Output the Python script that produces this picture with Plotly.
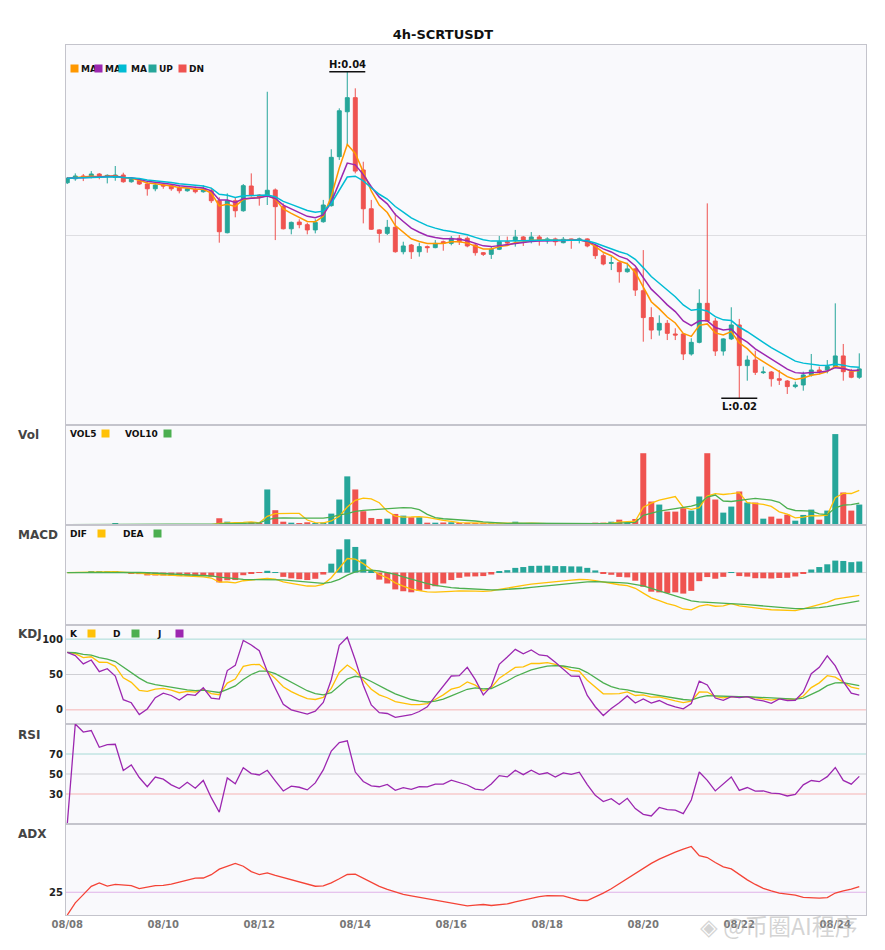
import numpy as np
import pandas as pd
import plotly.graph_objects as go
from plotly.subplots import make_subplots

# ---------------- data ----------------
title = "4h-SCRTUSDT"
start_time = "2024-08-08 00:00"

open_ = [0.03319, 0.03343, 0.03360, 0.03356, 0.03372, 0.03356, 0.03352, 0.03366, 0.03325, 0.03331,
         0.03311, 0.03282, 0.03305, 0.03301, 0.03287, 0.03270, 0.03279, 0.03264, 0.03270, 0.03209,
         0.03014, 0.03209, 0.03148, 0.03299, 0.03244, 0.03237, 0.03275, 0.03173, 0.03038, 0.03079,
         0.03063, 0.03031, 0.03081, 0.03179, 0.03478, 0.03752, 0.03838, 0.03397, 0.03160, 0.03031,
         0.03010, 0.03047, 0.02898, 0.02939, 0.02898, 0.02929, 0.02923, 0.02959, 0.02949, 0.02980,
         0.02980, 0.02939, 0.02892, 0.02882, 0.02913, 0.02959, 0.02965, 0.02988, 0.02969, 0.02988,
         0.02965, 0.02976, 0.02953, 0.02976, 0.02969, 0.02976, 0.02933, 0.02874, 0.02827, 0.02831,
         0.02776, 0.02793, 0.02660, 0.02496, 0.02420, 0.02461, 0.02396, 0.02396, 0.02274, 0.02345,
         0.02583, 0.02475, 0.02292, 0.02366, 0.02451, 0.02203, 0.02237, 0.02160, 0.02164, 0.02123,
         0.02109, 0.02075, 0.02085, 0.02146, 0.02176, 0.02176, 0.02197, 0.02262, 0.02166, 0.02132]
high = [0.03354, 0.03376, 0.03372, 0.03390, 0.03378, 0.03370, 0.03421, 0.03380, 0.03342, 0.03346,
        0.03323, 0.03310, 0.03315, 0.03308, 0.03303, 0.03287, 0.03295, 0.03303, 0.03287, 0.03230,
        0.03254, 0.03230, 0.03311, 0.03376, 0.03250, 0.03874, 0.03284, 0.03193, 0.03082, 0.03096,
        0.03075, 0.03096, 0.03214, 0.03523, 0.03773, 0.03996, 0.03895, 0.03447, 0.03214, 0.03035,
        0.03092, 0.03132, 0.02959, 0.02945, 0.02953, 0.02936, 0.02969, 0.02966, 0.02994, 0.03000,
        0.02991, 0.02951, 0.02896, 0.02929, 0.02994, 0.02990, 0.03031, 0.02994, 0.03018, 0.03000,
        0.02986, 0.02984, 0.02988, 0.02978, 0.02984, 0.02980, 0.02939, 0.02888, 0.02868, 0.02835,
        0.02831, 0.02799, 0.02908, 0.02559, 0.02510, 0.02481, 0.02431, 0.02402, 0.02370, 0.02669,
        0.03193, 0.02494, 0.02370, 0.02559, 0.02488, 0.02264, 0.02294, 0.02197, 0.02170, 0.02176,
        0.02115, 0.02105, 0.02166, 0.02274, 0.02197, 0.02237, 0.02583, 0.02335, 0.02183, 0.02278]
low = [0.03311, 0.03331, 0.03329, 0.03346, 0.03340, 0.03315, 0.03331, 0.03319, 0.03319, 0.03305,
       0.03240, 0.03267, 0.03282, 0.03270, 0.03254, 0.03264, 0.03254, 0.03258, 0.03195, 0.02953,
       0.03010, 0.03108, 0.03142, 0.03234, 0.03179, 0.03183, 0.02969, 0.03034, 0.03004, 0.03041,
       0.03004, 0.03010, 0.03075, 0.03173, 0.03458, 0.03549, 0.03376, 0.03071, 0.03031, 0.02953,
       0.03000, 0.02892, 0.02882, 0.02854, 0.02868, 0.02892, 0.02919, 0.02904, 0.02937, 0.02939,
       0.02925, 0.02874, 0.02872, 0.02854, 0.02908, 0.02939, 0.02929, 0.02933, 0.02949, 0.02935,
       0.02947, 0.02935, 0.02949, 0.02916, 0.02949, 0.02925, 0.02854, 0.02815, 0.02786, 0.02709,
       0.02770, 0.02628, 0.02349, 0.02364, 0.02386, 0.02359, 0.02359, 0.02237, 0.02264, 0.02339,
       0.02471, 0.02262, 0.02264, 0.02359, 0.02004, 0.02111, 0.02146, 0.02152, 0.02075, 0.02085,
       0.02030, 0.02065, 0.02050, 0.02136, 0.02150, 0.02156, 0.02187, 0.02111, 0.02126, 0.02122]
close = [0.03346, 0.03360, 0.03352, 0.03372, 0.03352, 0.03364, 0.03366, 0.03325, 0.03340, 0.03311,
         0.03282, 0.03305, 0.03299, 0.03282, 0.03270, 0.03282, 0.03264, 0.03279, 0.03209, 0.03020,
         0.03209, 0.03148, 0.03301, 0.03244, 0.03230, 0.03273, 0.03173, 0.03038, 0.03077, 0.03063,
         0.03031, 0.03077, 0.03183, 0.03474, 0.03758, 0.03838, 0.03390, 0.03160, 0.03035, 0.03010,
         0.03047, 0.02898, 0.02933, 0.02898, 0.02929, 0.02923, 0.02949, 0.02949, 0.02980, 0.02959,
         0.02933, 0.02892, 0.02882, 0.02913, 0.02959, 0.02951, 0.02988, 0.02965, 0.02988, 0.02969,
         0.02976, 0.02959, 0.02974, 0.02969, 0.02976, 0.02933, 0.02874, 0.02823, 0.02831, 0.02776,
         0.02793, 0.02664, 0.02496, 0.02420, 0.02461, 0.02400, 0.02390, 0.02274, 0.02345, 0.02583,
         0.02475, 0.02292, 0.02366, 0.02451, 0.02203, 0.02237, 0.02162, 0.02164, 0.02123, 0.02114,
         0.02075, 0.02085, 0.02146, 0.02176, 0.02166, 0.02197, 0.02262, 0.02166, 0.02132, 0.02183]
volume = [3000, 3000, 3000, 3000, 3000, 3000, 13000, 3000, 3000, 3000,
          5000, 3000, 3000, 3000, 5000, 3000, 3000, 3000, 7000, 67000,
          33000, 10000, 17000, 30000, 20000, 353000, 147000, 33000, 23000, 17000,
          27000, 17000, 25000, 113000, 253000, 483000, 353000, 137000, 70000, 60000,
          63000, 110000, 93000, 77000, 77000, 23000, 23000, 25000, 27000, 17000,
          17000, 17000, 10000, 10000, 10000, 10000, 33000, 17000, 17000, 10000,
          7000, 7000, 7000, 7000, 7000, 10000, 23000, 23000, 33000, 53000,
          27000, 60000, 713000, 233000, 203000, 133000, 133000, 167000, 143000, 283000,
          713000, 253000, 123000, 183000, 333000, 223000, 223000, 63000, 83000, 63000,
          103000, 43000, 100000, 153000, 53000, 143000, 903000, 323000, 143000, 203000]

ma_periods = [5, 8, 13]          # exponential moving averages on the price panel
vol_periods = [5, 10]
macd_params = (12, 26, 9)
kdj_params = (9, 3, 3)
rsi_period = 14
adx_period = 14

# ---------------- styling ----------------
UP = "#26a69a"
DN = "#ef5350"
MA_COLORS = ["#ff9800", "#9c27b0", "#00bcd4"]
YEL = "#ffc107"
GRN = "#4caf50"
PUR = "#9c27b0"
ADXC = "#f44336"
FONT = "DejaVu Sans"

# ---------------- indicators ----------------
o = np.array(open_); h = np.array(high); l = np.array(low); c = np.array(close)
v = np.array(volume, dtype=float)
n = len(c)
xi = np.arange(n)
times = pd.date_range(start_time, periods=n, freq="4h")


def ema(a, p):
    a = np.asarray(a, dtype=float)
    k = 2.0 / (p + 1)
    out = np.empty_like(a)
    out[0] = a[0]
    for i in range(1, len(a)):
        out[i] = k * a[i] + (1 - k) * out[i - 1]
    return out


mas = [ema(c, p) for p in ma_periods]
vols = [pd.Series(v).rolling(p, min_periods=1).mean().values for p in vol_periods]

f, s, sg = macd_params
dif = ema(c, f) - ema(c, s)
dea = ema(dif, sg)
hist = 2 * (dif - dea)

kn, k1, k2 = kdj_params
llv = pd.Series(l).rolling(kn, min_periods=1).min().values
hhv = pd.Series(h).rolling(kn, min_periods=1).max().values
rsv = (c - llv) / np.where(hhv - llv == 0, 1, hhv - llv) * 100
K = np.empty(n); D = np.empty(n)
K[0] = rsv[0]; D[0] = rsv[0]
for i in range(1, n):
    K[i] = (k1 - 1) / k1 * K[i - 1] + rsv[i] / k1
    D[i] = (k2 - 1) / k2 * D[i - 1] + K[i] / k2
J = 3 * K - 2 * D

a = 2.0 / (rsi_period + 1)
diff = np.diff(c)
gain = np.maximum(diff, 0); loss = np.maximum(-diff, 0)
ag = np.empty(n - 1); al = np.empty(n - 1)
ag[0] = gain[0]; al[0] = loss[0]
for i in range(1, n - 1):
    ag[i] = a * gain[i] + (1 - a) * ag[i - 1]
    al[i] = a * loss[i] + (1 - a) * al[i - 1]
rsi = np.concatenate([[0.0], 100 * ag / np.where(ag + al == 0, 1, ag + al)])

b = 2.0 / (adx_period + 1)
tr = np.empty(n); pdm = np.zeros(n); mdm = np.zeros(n)
tr[0] = h[0] - l[0]
for i in range(1, n):
    tr[i] = max(h[i] - l[i], abs(h[i] - c[i - 1]), abs(l[i] - c[i - 1]))
    up = h[i] - h[i - 1]; dn = l[i - 1] - l[i]
    pdm[i] = up if (up > dn and up > 0) else 0
    mdm[i] = dn if (dn > up and dn > 0) else 0
str_ = ema(tr, adx_period); spdm = ema(pdm, adx_period); smdm = ema(mdm, adx_period)
pdi = 100 * spdm / str_; mdi = 100 * smdm / str_
den = np.where(pdi + mdi == 0, 1, pdi + mdi)
dx = np.where(pdi + mdi == 0, 0, 100 * np.abs(pdi - mdi) / den)
adx = np.empty(n); adx[0] = 0
for i in range(1, n):
    adx[i] = b * dx[i] + (1 - b) * adx[i - 1]

bar_col = [UP if c[i] >= o[i] else DN for i in range(n)]
hist_col = [UP if x >= 0 else DN for x in hist]

tick_idx = [i for i, t in enumerate(times) if t.hour == 0 and t.day % 2 == 0]
tick_txt = [times[i].strftime("%m/%d") for i in tick_idx]

# ---------------- figure ----------------
fig = make_subplots(rows=6, cols=1, shared_xaxes=True, vertical_spacing=0,
                    row_heights=[380, 100, 100, 99, 100, 91])

fig.add_trace(go.Candlestick(x=xi, open=o, high=h, low=l, close=c,
                             increasing=dict(line=dict(color=UP, width=1), fillcolor=UP),
                             decreasing=dict(line=dict(color=DN, width=1), fillcolor=DN),
                             whiskerwidth=0, hoverinfo="skip", name="K"), row=1, col=1)
for m, col in zip(mas, MA_COLORS):
    fig.add_trace(go.Scatter(x=xi, y=m, mode="lines", line=dict(color=col, width=1.5)), row=1, col=1)

fig.add_trace(go.Bar(x=xi, y=v, marker=dict(color=bar_col, line=dict(width=0))), row=2, col=1)
for vv, col in zip(vols, [YEL, GRN]):
    fig.add_trace(go.Scatter(x=xi, y=vv, mode="lines", line=dict(color=col, width=1.3)), row=2, col=1)

fig.add_trace(go.Bar(x=xi, y=hist, marker=dict(color=hist_col, line=dict(width=0))), row=3, col=1)
fig.add_trace(go.Scatter(x=xi, y=dif, mode="lines", line=dict(color=YEL, width=1.3)), row=3, col=1)
fig.add_trace(go.Scatter(x=xi, y=dea, mode="lines", line=dict(color=GRN, width=1.3)), row=3, col=1)

for ser, col in zip([K, D, J], [YEL, GRN, PUR]):
    fig.add_trace(go.Scatter(x=xi, y=ser, mode="lines", line=dict(color=col, width=1.3)), row=4, col=1)

fig.add_trace(go.Scatter(x=xi, y=rsi, mode="lines", line=dict(color=PUR, width=1.3)), row=5, col=1)
fig.add_trace(go.Scatter(x=xi, y=adx, mode="lines", line=dict(color=ADXC, width=1.3)), row=6, col=1)

# axes
xr = [-0.16, n - 0.16]
for r in range(1, 7):
    fig.update_xaxes(row=r, col=1, range=xr, showline=True, mirror=True, linecolor="#c4c4cc",
                     linewidth=1, showgrid=False, zeroline=False, showticklabels=(r == 6),
                     ticks="", rangeslider_visible=False)
fig.update_xaxes(row=6, col=1, tickvals=tick_idx, ticktext=tick_txt,
                 tickfont=dict(family=FONT, size=10, color="#777", weight="bold"))

tickfont = dict(family=FONT, size=10, color="#222", weight="bold")
lo, hi = l.min(), h.max()
pad = 0.082 * (hi - lo)
fig.update_yaxes(row=1, col=1, range=[lo - pad, hi + pad], tickvals=[0.03], showticklabels=False,
                 gridcolor="#dedee2", showgrid=True)
fig.update_yaxes(row=2, col=1, range=[0, v.max() * 1.1], showticklabels=False, showgrid=False)
mlo = min(dif.min(), dea.min(), hist.min()); mhi = max(dif.max(), dea.max(), hist.max())
mp = 0.2 * (mhi - mlo)
fig.update_yaxes(row=3, col=1, range=[mlo - mp, mhi + mp], showticklabels=False, showgrid=False)
fig.update_yaxes(row=4, col=1, range=[-20, 120], tickvals=[0, 50, 100], showgrid=False, tickfont=tickfont)
fig.update_yaxes(row=5, col=1, range=[0, 100], tickvals=[30, 50, 70], showgrid=False, tickfont=tickfont)
fig.update_yaxes(row=6, col=1, range=[0, 100], tickvals=[25], showgrid=False, tickfont=tickfont)
fig.update_yaxes(showline=True, mirror=True, linecolor="#c4c4cc", linewidth=1, zeroline=False, ticks="")

# reference lines
TEAL_L = "#a6dad6"; GRAY_L = "#cfcfd4"; RED_L = "#f6b3b3"; PUR_L = "#dfb3e8"
refs = [(4, 100, TEAL_L), (4, 50, GRAY_L), (4, 0, RED_L),
        (5, 70, TEAL_L), (5, 50, GRAY_L), (5, 30, RED_L),
        (6, 25, PUR_L)]
for row, val, col in refs:
    fig.add_shape(type="line", xref=f"x{row} domain", yref=f"y{row}", x0=0, x1=1, y0=val, y1=val,
                  line=dict(color=col, width=1), layer="below")
fig.add_shape(type="line", xref="x3 domain", yref="y3", x0=0, x1=1, y0=0, y1=0,
              line=dict(color="#d6d6da", width=1), layer="below")

# high / low markers
ih = int(np.argmax(h)); il = int(np.argmin(l))
fig.add_shape(type="line", xref="x", yref="y", x0=ih - 2.25, x1=ih + 2.25, y0=h[ih], y1=h[ih],
              line=dict(color="#111", width=1.5))
fig.add_shape(type="line", xref="x", yref="y", x0=il - 2.25, x1=il + 2.25, y0=l[il], y1=l[il],
              line=dict(color="#111", width=1.5))
fig.add_annotation(x=ih, y=h[ih], xref="x", yref="y", text=f"H:{h[ih]:.2f}", showarrow=False,
                   yanchor="bottom", yshift=0, font=dict(family=FONT, size=10, color="#111", weight="bold"))
fig.add_annotation(x=il, y=l[il], xref="x", yref="y", text=f"L:{l[il]:.2f}", showarrow=False,
                   yanchor="top", yshift=-1, font=dict(family=FONT, size=10, color="#111", weight="bold"))

# ---------------- legends / labels (page-pixel helpers) ----------------
# the page body has an 8px margin; the plot area sits at x 65.7..865.7, y 45..915 on the page
PL, PW, PB, PH = 65.7, 800.0, 915.0, 870.0


def px(xp):
    return (xp - PL) / PW


def py(yp):
    return (PB - yp) / PH


lfont = dict(family=FONT, size=9, color="#111", weight="bold")


def sq(xp, yp, col):
    fig.add_annotation(xref="paper", yref="paper", x=px(xp), y=py(yp), xanchor="left", yanchor="middle",
                       text=" ", showarrow=False, width=7, height=7, bgcolor=col, borderpad=0,
                       font=dict(size=1))


def txt(xp, yp, s_):
    fig.add_annotation(xref="paper", yref="paper", x=px(xp), y=py(yp), xanchor="left", yanchor="middle",
                       text=s_, showarrow=False, font=lfont)


legends = {
    68.7: [("s", 70, MA_COLORS[0]), ("t", 79, "MA"), ("s", 94, MA_COLORS[1]), ("t", 103, "MA"),
           ("s", 118, MA_COLORS[2]), ("t", 129, "MA"), ("s", 148, UP), ("t", 157, "UP"),
           ("s", 178, DN), ("t", 187, "DN")],
    433.7: [("t", 68, "VOL5"), ("s", 101, YEL), ("t", 123, "VOL10"), ("s", 163, GRN)],
    533.7: [("t", 68, "DIF"), ("s", 97, YEL), ("t", 121, "DEA"), ("s", 153, GRN)],
    633.7: [("t", 68, "K"), ("s", 87, YEL), ("t", 111, "D"), ("s", 131, GRN), ("t", 155, "J"), ("s", 175, PUR)],
}
for yp, items in legends.items():
    for kind, xp, val in items:
        if kind == "s":
            sq(xp, yp, val)
        else:
            txt(xp, yp, val)

panel_labels = [("Vol", 435), ("MACD", 535), ("KDJ", 634), ("RSI", 735), ("ADX", 834)]
for name, yp in panel_labels:
    fig.add_annotation(xref="paper", yref="paper", x=px(16), y=py(yp), xanchor="left", yanchor="middle",
                       text=name, showarrow=False,
                       font=dict(family=FONT, size=12, color="#444", weight="bold"))

# watermark (drawn over the bottom-right corner, as in the reference)
fig.add_annotation(xref="paper", yref="paper", x=px(698), y=py(925), xanchor="left", yanchor="middle",
                   text="◈ @币圈AI程序", showarrow=False,
                   font=dict(family="Noto Sans CJK SC", size=23, color="rgba(170,170,170,0.5)"))

# figure is 8px smaller than the window because of the page's body margin
fig.update_layout(
    width=877, height=942,
    margin=dict(l=58, r=19, t=37, b=35),
    paper_bgcolor="white", plot_bgcolor="#f9f9fc",
    showlegend=False, bargap=0.25,
    title=dict(text=title, x=(443 - 8) / 877, xref="container", y=1 - (34 - 8) / 942, yref="container",
               xanchor="center", yanchor="middle",
               font=dict(family=FONT, size=13, color="#111", weight="bold")),
    font=dict(family=FONT),
    hovermode=False,
)

fig.write_html("out.html")
